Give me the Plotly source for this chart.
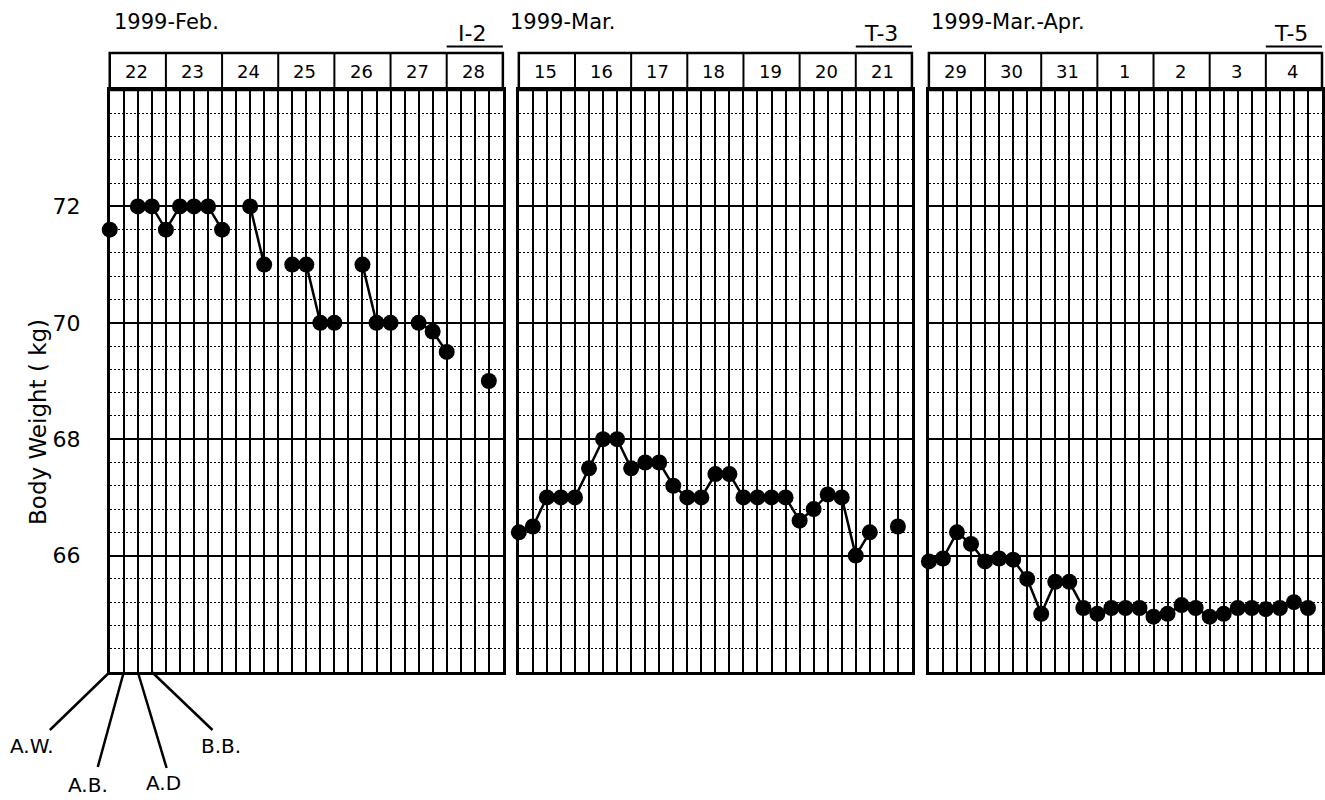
import plotly.graph_objects as go

FONT = "DejaVu Sans"

# ---------------- data ----------------
slot_labels = ["A.W.", "A.B.", "A.D", "B.B."]
y_ticks = [66, 68, 70, 72]

panel_titles = ["1999-Feb.", "1999-Mar.", "1999-Mar.-Apr."]
panel_tags = ["I-2", "T-3", "T-5"]

days_feb = ["22", "23", "24", "25", "26", "27", "28"]
days_mar = ["15", "16", "17", "18", "19", "20", "21"]
days_apr = ["29", "30", "31", "1", "2", "3", "4"]

weight_feb = [71.6, None, 72.0, 72.0, 71.6, 72.0, 72.0, 72.0,
              71.6, None, 72.0, 71.0, None, 71.0, 71.0, 70.0,
              70.0, None, 71.0, 70.0, 70.0, None, 70.0, 69.85,
              69.5, None, None, 69.0]
weight_mar = [66.4, 66.5, 67.0, 67.0, 67.0, 67.5, 68.0, 68.0,
              67.5, 67.6, 67.6, 67.2, 67.0, 67.0, 67.4, 67.4,
              67.0, 67.0, 67.0, 67.0, 66.6, 66.8, 67.05, 67.0,
              66.0, 66.4, None, 66.5]
weight_apr = [65.9, 65.95, 66.4, 66.2, 65.9, 65.95, 65.93, 65.6,
              65.0, 65.55, 65.55, 65.1, 65.0, 65.1, 65.1, 65.1,
              64.95, 65.0, 65.15, 65.1, 64.95, 65.0, 65.1, 65.1,
              65.08, 65.1, 65.2, 65.1]

panel_days = [days_feb, days_mar, days_apr]
panel_weights = [weight_feb, weight_mar, weight_apr]

# ---------------- layout geometry (screen pixels) ----------------
W, H = 1325, 800
px_left = [110, 520, 931]
px_width = 394
grid_top, grid_bot = 90, 672
head_top = 53


def fx(px):
    return px / W


def fy(py):
    return 1 - py / H


n_slots = 4 * 7
fig = go.Figure()

for i, w in enumerate(panel_weights):
    sfx = "" if i == 0 else str(i + 1)
    fig.add_trace(go.Scatter(
        x=list(range(len(w))), y=w, mode="lines+markers",
        line=dict(color="black", width=2.5),
        marker=dict(color="black", size=16),
        connectgaps=False, showlegend=False, hoverinfo="skip",
        xaxis="x" + sfx, yaxis="y" + sfx, cliponaxis=False))

layout = dict(width=W, height=H, margin=dict(l=0, r=0, t=0, b=0),
              paper_bgcolor="white", plot_bgcolor="white",
              font=dict(family=FONT, color="black"))

shapes = []
annotations = []

for i in range(3):
    sfx = "" if i == 0 else str(i + 1)
    xname = "xaxis" + sfx
    yname = "yaxis" + sfx
    layout[xname] = dict(
        domain=[fx(px_left[i]), min(1.0, fx(px_left[i] + px_width))],
        range=[0, n_slots], tickmode="linear", tick0=0, dtick=1,
        showgrid=True, gridcolor="black", gridwidth=2,
        showline=True, linecolor="black", linewidth=2.5, mirror=True,
        showticklabels=False, ticks="", zeroline=False, fixedrange=True,
        anchor="y" + sfx)
    layout[yname] = dict(
        domain=[fy(grid_bot), fy(grid_top)], range=[64, 74],
        tickmode="array", tickvals=y_ticks, ticktext=[str(t) for t in y_ticks],
        showgrid=True, gridcolor="black", gridwidth=2,
        minor=dict(tickmode="linear", tick0=64, dtick=0.4, showgrid=True,
                   gridcolor="black", gridwidth=1, griddash="2px,2px"),
        showline=True, linecolor="black", linewidth=2.5, mirror=True,
        zeroline=False, fixedrange=True,
        showticklabels=(i == 0), ticks="outside" if i == 0 else "",
        ticklen=22, tickcolor="rgba(0,0,0,0)",
        tickfont=dict(family=FONT, size=22, color="black"),
        anchor="x" + sfx)

    xd = "x" + sfx + " domain"
    # header box
    shapes.append(dict(type="rect", xref=xd, yref="paper", x0=0, x1=1,
                       y0=fy(grid_top), y1=fy(head_top),
                       line=dict(color="black", width=2.5), layer="above"))
    for d in range(1, 7):
        shapes.append(dict(type="line", xref=xd, yref="paper", x0=d / 7, x1=d / 7,
                           y0=fy(grid_top), y1=fy(head_top),
                           line=dict(color="black", width=2)))
    for d, lab in enumerate(panel_days[i]):
        annotations.append(dict(xref="x" + sfx, yref="paper", x=4 * d + 1.9,
                                y=fy(72), text=lab, showarrow=False,
                                font=dict(family=FONT, size=18, color="black"),
                                xanchor="center", yanchor="middle"))
    # tag with underline over last day
    shapes.append(dict(type="line", xref=xd, yref="paper", x0=6 / 7, x1=1.0,
                       y0=fy(46.5), y1=fy(46.5), line=dict(color="black", width=2)))
    annotations.append(dict(xref="x" + sfx, yref="paper", x=25.8, y=fy(34),
                            text=panel_tags[i], showarrow=False,
                            font=dict(family=FONT, size=22, color="black"),
                            xanchor="center", yanchor="middle"))

# panel titles
title_px = [112, 509, 931]
for i, t in enumerate(panel_titles):
    annotations.append(dict(xref="paper", yref="paper", x=fx(title_px[i]), y=fy(22),
                            text=t, showarrow=False,
                            font=dict(family=FONT, size=21, color="black"),
                            xanchor="left", yanchor="middle"))

# y axis title
annotations.append(dict(xref="paper", yref="paper", x=fx(38), y=fy(422),
                        text="Body Weight ( kg)", textangle=-90, showarrow=False,
                        font=dict(family=FONT, size=23, color="black"),
                        xanchor="center", yanchor="middle"))

# slot legend lines under first panel
slot_px = px_width / n_slots
line_end = [(50, 730), (98, 767), (167, 768), (213, 730)]
label_pos = [(32, 746), (88, 785), (164, 783), (222, 746)]
for s, lab in enumerate(slot_labels):
    x0 = px_left[0] + s * slot_px
    shapes.append(dict(type="line", xref="paper", yref="paper",
                       x0=fx(x0), y0=fy(grid_bot), x1=fx(line_end[s][0]), y1=fy(line_end[s][1]),
                       line=dict(color="black", width=2.5)))
    annotations.append(dict(xref="paper", yref="paper", x=fx(label_pos[s][0]),
                            y=fy(label_pos[s][1]), text=lab, showarrow=False,
                            font=dict(family=FONT, size=20, color="black"),
                            xanchor="center", yanchor="middle"))

layout["shapes"] = shapes
layout["annotations"] = annotations
fig.update_layout(**layout)
fig.write_html("out.html", config={"displayModeBar": False},
               post_script="document.body.style.margin='0';")
